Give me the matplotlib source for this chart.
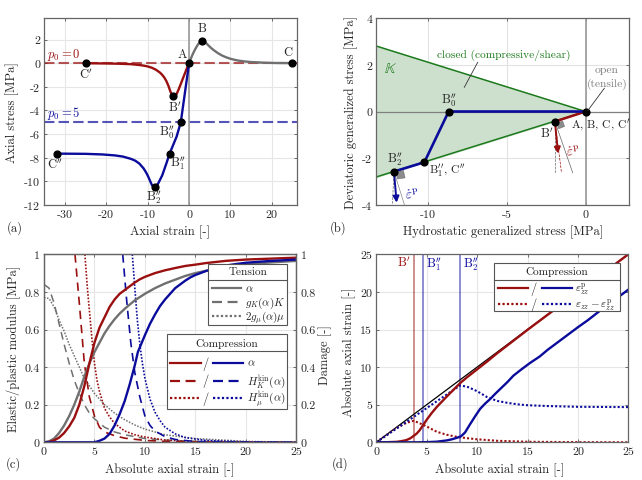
import matplotlib
matplotlib.use("Agg")
import matplotlib.pyplot as plt
from matplotlib.patches import Rectangle
from matplotlib.lines import Line2D
from matplotlib.transforms import Affine2D

plt.rcParams["font.family"] = ["cmr10", "DejaVu Sans"]
plt.rcParams["mathtext.fontset"] = "cm"
plt.rcParams["axes.unicode_minus"] = False
plt.rcParams["axes.formatter.use_mathtext"] = True

RED = "#9a0f0f"
BLUE = "#0b0b9c"
GRAY = "#707070"
GREEN = "#1c7a1c"
TXT = "#262626"
FS = 8.6

# panel a
tension_x = [0, 0.5, 1, 1.5, 2, 2.5, 2.9, 3.2, 3.5, 4, 4.5, 5, 5.5, 6, 7, 8, 9, 10, 11, 12, 13.5, 15, 18, 21, 25]
tension_y = [0, 0.45, 0.85, 1.2, 1.5, 1.75, 1.86, 1.9, 1.86, 1.75, 1.57, 1.4, 1.24, 1.1, 0.85, 0.65, 0.5, 0.38, 0.29, 0.22, 0.15, 0.1, 0.05, 0.02, 0.01]
red_x = [0, -0.5, -1, -1.5, -2, -2.5, -3, -3.4, -3.8, -4.2, -4.5, -5, -5.5, -6, -6.5, -7, -8, -9, -10, -11, -12, -14, -17, -20, -25]
red_y = [0, -0.4, -0.85, -1.3, -1.75, -2.2, -2.6, -2.75, -2.8, -2.65, -2.4, -1.9, -1.5, -1.2, -0.98, -0.8, -0.55, -0.38, -0.27, -0.2, -0.15, -0.08, -0.04, -0.02, 0]
blue_x = [0, -2, -3, -4.7, -5.5, -6.5, -7.5, -8, -8.3, -8.7, -9, -9.5, -10, -10.5, -11, -12, -13, -14, -16, -18, -21, -25, -32]
blue_y = [0, -5, -6.2, -7.65, -8.5, -9.5, -10.2, -10.42, -10.5, -10.42, -10.3, -9.9, -9.5, -9.18, -8.9, -8.5, -8.25, -8.1, -7.9, -7.8, -7.72, -7.67, -7.65]
points_a_x = [0, 3.2, 25, -25, -3.8, -2, -4.7, -8.3, -32]
points_a_y = [0, 1.9, 0.02, 0, -2.8, -5, -7.65, -10.5, -7.65]

# panel b
cone_x = [0, -13.28]
cone_up = [0, 2.8]
cone_low = [0, -2.8]
path_blue_x = [0, -8.69, -10.23, -12.16]
path_blue_y = [0, 0, -2.17, -2.57]
path_red_x = [0, -1.95]
path_red_y = [0, -0.43]
square_red = [(-1.84, -0.5), (-1.46, -0.4), (-1.33, -0.64), (-1.71, -0.74)]
square_blue = [(-12.03, -2.6), (-11.56, -2.51), (-11.45, -2.84), (-11.94, -2.89)]

# panel c
alpha_t_x = [0, 0.5, 1, 1.5, 2, 2.5, 3, 3.5, 4, 4.5, 5, 5.5, 6, 6.5, 7, 7.5, 8, 8.5, 9, 10, 11, 12, 13, 14, 15, 16, 18, 20, 22, 25]
alpha_t_y = [0, 0.005, 0.02, 0.05, 0.09, 0.14, 0.2, 0.27, 0.35, 0.42, 0.48, 0.53, 0.58, 0.62, 0.655, 0.685, 0.71, 0.733, 0.755, 0.79, 0.82, 0.845, 0.865, 0.885, 0.9, 0.912, 0.93, 0.945, 0.955, 0.965]
alpha_r_x = [0, 0.5, 1, 1.5, 2, 2.5, 3, 3.5, 4, 4.5, 5, 5.5, 6, 6.5, 7, 7.5, 8, 8.5, 9, 9.5, 10, 11, 12, 13, 14, 15, 16, 18, 20, 25]
alpha_r_y = [0, 0.002, 0.01, 0.025, 0.05, 0.085, 0.13, 0.2, 0.3, 0.42, 0.53, 0.61, 0.665, 0.72, 0.76, 0.79, 0.81, 0.83, 0.85, 0.867, 0.88, 0.9, 0.915, 0.927, 0.938, 0.945, 0.953, 0.965, 0.972, 0.982]
alpha_b_x = [0, 5, 5.5, 6, 6.5, 7, 7.5, 8, 8.5, 9, 9.3, 10, 10.5, 11, 11.5, 12, 12.5, 13, 13.5, 14, 14.5, 15, 16, 17, 18, 19, 20, 22, 25]
alpha_b_y = [0, 0, 0.008, 0.02, 0.045, 0.09, 0.15, 0.22, 0.31, 0.41, 0.48, 0.57, 0.63, 0.68, 0.725, 0.76, 0.79, 0.82, 0.84, 0.86, 0.877, 0.89, 0.91, 0.927, 0.94, 0.948, 0.955, 0.963, 0.972]
gk_x = [0, 0.5, 1, 1.5, 2, 2.5, 3, 3.5, 4, 4.5, 5, 6, 7, 8, 10, 12, 15, 25]
gk_y = [0.84, 0.82, 0.74, 0.63, 0.52, 0.42, 0.33, 0.26, 0.2, 0.155, 0.125, 0.08, 0.055, 0.04, 0.02, 0.012, 0.005, 0]
gmu_x = [0, 0.5, 1, 1.5, 2, 2.5, 3, 3.5, 4, 4.5, 5, 5.5, 6, 7, 8, 9, 10, 12, 15, 20, 25]
gmu_y = [0.77, 0.765, 0.72, 0.65, 0.59, 0.52, 0.46, 0.4, 0.34, 0.3, 0.26, 0.23, 0.2, 0.155, 0.12, 0.092, 0.07, 0.04, 0.02, 0.005, 0]
hk_r_x = [3.07, 3.5, 4, 4.5, 5, 5.5, 6, 7, 8, 10, 12, 15, 25]
hk_r_y = [1, 0.74, 0.42, 0.24, 0.14, 0.08, 0.055, 0.035, 0.022, 0.01, 0.005, 0.001, 0]
hmu_r_x = [4.05, 4.3, 4.5, 4.75, 5, 5.25, 5.5, 6, 6.5, 7, 8, 9, 10, 12, 15, 25]
hmu_r_y = [1, 0.82, 0.7, 0.55, 0.42, 0.33, 0.27, 0.18, 0.135, 0.1, 0.06, 0.04, 0.028, 0.012, 0.003, 0]
hk_b_x = [7.8, 8.2, 8.6, 9, 9.5, 10, 10.5, 11, 12, 13, 15, 25]
hk_b_y = [1, 0.75, 0.53, 0.37, 0.24, 0.14, 0.09, 0.06, 0.03, 0.015, 0.004, 0]
hmu_b_x = [8.75, 9, 9.25, 9.5, 9.75, 10, 10.5, 11, 11.5, 12, 13, 14, 16, 20, 25]
hmu_b_y = [1, 0.82, 0.65, 0.52, 0.42, 0.34, 0.23, 0.16, 0.115, 0.08, 0.045, 0.025, 0.01, 0.002, 0]

# panel d
total_x = [0, 25]
total_y = [0, 25]
ep_r_x = [0, 1, 2, 2.5, 3, 3.4, 3.7, 4, 4.3, 4.7, 5, 5.5, 6, 6.5, 7, 8, 8.4, 9, 10, 11, 12, 15, 20, 25]
ep_r_y = [0, 0.01, 0.06, 0.15, 0.3, 0.55, 0.85, 1.15, 1.6, 2.4, 3.0, 3.9, 4.7, 5.4, 6.1, 7.45, 7.97, 8.65, 9.7, 10.75, 11.85, 14.95, 19.97, 25]
ee_r_x = [0, 1, 2, 3, 3.7, 4.2, 5, 6, 7, 8, 9, 10, 12, 15, 20, 25]
ee_r_y = [0, 0.95, 1.9, 2.6, 2.85, 2.6, 2.1, 1.4, 1.0, 0.72, 0.55, 0.4, 0.2, 0.07, 0.02, 0]
ep_b_x = [0, 4, 5, 6, 7, 7.5, 8, 8.4, 8.8, 9.3, 9.8, 10.3, 10.8, 11.3, 11.8, 12.3, 13, 13.6, 14.4, 15.25, 16.2, 17, 18, 19, 20, 21, 22, 23, 24, 25]
ep_b_y = [0, 0, 0.02, 0.08, 0.25, 0.4, 0.6, 0.8, 1.3, 2.4, 3.45, 4.45, 5.15, 5.76, 6.45, 7.1, 8, 8.86, 9.7, 10.55, 11.4, 12.3, 13.3, 14.3, 15.3, 16.25, 17.3, 18.3, 19.3, 20.3]
ee_b_x = [0, 8.3, 9, 9.5, 10, 10.5, 11, 11.5, 12, 13, 14, 15, 17, 20, 25]
ee_b_y = [0, 7.55, 7.4, 7.1, 6.8, 6.4, 6.0, 5.75, 5.5, 5.25, 5.05, 4.93, 4.82, 4.72, 4.68]
mark_lines = [3.7, 4.65, 8.35]
mark_colors = [RED, BLUE, BLUE]

fig = plt.figure(figsize=(6.42, 4.81), dpi=100)
PX = Affine2D().scale(1 / 642, -1 / 481).translate(0, 1) + fig.transFigure


def make_axes(x0, y0, x1, y1, xlim, ylim, xticks, yticks):
    ax = fig.add_axes([x0 / 642, 1 - y1 / 481, (x1 - x0) / 642, (y1 - y0) / 481])
    ax.set_xlim(xlim)
    ax.set_ylim(ylim)
    ax.set_xticks(xticks)
    ax.set_xticklabels([str(t) for t in xticks])
    ax.set_yticks(yticks)
    ax.set_yticklabels([str(t) for t in yticks])
    ax.grid(True, color="#e6e6e6", lw=0.8)
    ax.set_axisbelow(True)
    ax.tick_params(direction="in", length=2.5, width=0.6, color="#555555", labelsize=FS,
                   labelcolor=TXT, top=True, right=True, pad=3)
    for s in ax.spines.values():
        s.set_color("#666666")
        s.set_linewidth(0.9)
    return ax


def label(x, y, s, color=TXT, size=FS + 0.4, rot=0, **kw):
    fig.text(x, y, s, transform=PX, color=color, fontsize=size, rotation=rot,
             ha="center", va="center", **kw)


def legend_box(x0, x1, y0, y1, ysep, title, ytitle):
    fig.add_artist(Rectangle((x0, y0), x1 - x0, y1 - y0, transform=PX, fc="white", ec="#555555", lw=0.8))
    fig.add_artist(Line2D([x0, x1], [ysep, ysep], transform=PX, color="#555555", lw=0.8))
    label((x0 + x1) / 2, ytitle, title, size=8.1)


def legend_line(x0, x1, y, color, ls):
    fig.add_artist(Line2D([x0, x1], [y, y], transform=PX, color=color, ls=ls, lw=1.6))


def legend_text(x, y, s):
    fig.text(x, y, s, transform=PX, color=TXT, fontsize=8.0, ha="left", va="center")


# (a)
ax = make_axes(44.3, 19, 297, 206, (-35, 26.1), (-12, 3.83), [-30, -20, -10, 0, 10, 20], [-12, -10, -8, -6, -4, -2, 0, 2])
ax.axvline(0, color="#9a9a9a", lw=1.2)
ax.axhline(0, color=RED, ls=(0, (5, 2)), lw=1.5, alpha=0.7)
ax.axhline(-5, color=BLUE, ls=(0, (5, 2)), lw=1.5, alpha=0.7)
ax.plot(tension_x, tension_y, color=GRAY, lw=1.7)
ax.plot(red_x, red_y, color=RED, lw=1.7)
ax.plot(blue_x, blue_y, color=BLUE, lw=1.7)
ax.plot(points_a_x, points_a_y, "o", color="black", ms=4.9, zorder=5)
label(64, 55, r"$p_0 = 0$", RED)
label(64, 113.7, r"$p_0 = 5$", BLUE)
label(202.3, 29, "B")
label(182, 54.7, "A")
label(288, 52.7, "C")
label(86, 75, r"C$'$")
label(175, 107.7, r"B$'$")
label(166.7, 132.3, r"B$_0''$")
label(178.3, 163.3, r"B$_1''$")
label(55, 165.3, r"C$''$")
label(154.3, 197.7, r"B$_2''$")
label(14.3, 228.3, "(a)")
label(170, 232.3, "Axial strain [-]")
label(12.7, 112.7, "Axial stress [MPa]", rot=90)

# (b)
ax = make_axes(376.3, 19, 629.3, 206, (-13.28, 2.77), (-4, 4), [-10, -5, 0], [-4, -2, 0, 2, 4])
ax.fill_between(cone_x, cone_low, cone_up, color="#cde0cd", zorder=1)
ax.grid(True, color="#e2e2e2", lw=0.8)
ax.axvline(0, color="#9a9a9a", lw=1.2, zorder=2)
ax.axhline(0, color="#808080", lw=0.9, zorder=2)
ax.plot(cone_x, cone_up, color=GREEN, lw=1.1)
ax.plot(cone_x, cone_low, color=GREEN, lw=1.1)
ax.fill(*zip(*square_red), color="#8c8c8c", ec="#666666", lw=0.3, zorder=3)
ax.fill(*zip(*square_blue), color="#8c8c8c", ec="#666666", lw=0.3, zorder=3)
ax.plot([-1.95, -1.95], [-0.43, -2.62], color="#666666", ls="--", lw=0.5)
ax.plot([-1.95, -1.53], [-0.43, -2.62], color=RED, ls="--", lw=0.5)
ax.plot([-1.95, -0.82], [-0.43, -2.62], color="#666666", lw=0.5)
ax.plot([-12.16, -12.26], [-2.57, -3.98], color="#666666", ls="--", lw=0.5)
ax.plot([-12.16, -11.5], [-2.57, -3.98], color="#888888", lw=0.5)
ax.annotate("", xy=(-1.75, -1.8), xytext=(-1.95, -0.43),
            arrowprops=dict(arrowstyle="-|>", color=RED, lw=1.4, mutation_scale=9, shrinkA=0, shrinkB=0))
ax.annotate("", xy=(-11.99, -3.9), xytext=(-12.16, -2.57),
            arrowprops=dict(arrowstyle="-|>", color=BLUE, lw=1.4, mutation_scale=9, shrinkA=0, shrinkB=0))
ax.plot(path_red_x, path_red_y, color=RED, lw=1.8)
ax.plot(path_blue_x, path_blue_y, color=BLUE, lw=1.9)
ax.plot(path_blue_x + path_red_x[1:], path_blue_y + path_red_y[1:], "o", color="black", ms=4.9, ls="none", zorder=5)
fig.add_artist(Line2D([477.7, 464.3], [63.3, 88.3], transform=PX, color="#333333", lw=0.6))
fig.add_artist(Line2D([604.3, 587.7], [89.3, 111.7], transform=PX, color="#333333", lw=0.6))
label(503.7, 55.3, "closed (compressive/shear)", GREEN, size=8.2)
fig.text(390.7, 69.3, r"$\mathbb{K}$", transform=PX, color=GREEN, fontsize=FS + 2, ha="center", va="center", math_fontfamily="stix")
label(607, 70, "open", "#808080", size=8.3)
label(607, 84, "(tensile)", "#808080", size=8.3)
label(449, 100.7, r"B$_0''$")
label(600.3, 124.3, r"A, B, C, C$'$", size=8.3)
label(547, 134, r"B$'$")
label(447, 170.7, r"B$_1''$, C$''$", size=8.4)
label(395, 159.3, r"B$_2''$")
label(573.3, 152.3, r"$\dot{\varepsilon}^{\mathrm{p}}$", RED, size=10, rot=10)
label(412, 195, r"$\dot{\varepsilon}^{\mathrm{p}}$", BLUE, size=10, rot=10)
label(337.7, 228.3, "(b)")
label(502.7, 232.3, "Hydrostatic generalized stress [MPa]")
label(351, 112.7, "Deviatoric generalized stress [MPa]", rot=90)

# (c)
tk = [0, 0.2, 0.4, 0.6, 0.8, 1]
ax = make_axes(44, 255.3, 296.3, 443.3, (0, 25), (0, 1), [0, 5, 10, 15, 20, 25], tk)
ax.plot(gk_x, gk_y, color=GRAY, ls=(0, (5, 3.5)), lw=1.1)
ax.plot(gmu_x, gmu_y, color=GRAY, ls=(0, (1, 1)), lw=1.1)
ax.plot(hk_r_x, hk_r_y, color=RED, ls=(0, (5, 3.5)), lw=1.2)
ax.plot(hmu_r_x, hmu_r_y, color=RED, ls=(0, (1, 1)), lw=1.2)
ax.plot(hk_b_x, hk_b_y, color=BLUE, ls=(0, (5, 3.5)), lw=1.2)
ax.plot(hmu_b_x, hmu_b_y, color=BLUE, ls=(0, (1, 1)), lw=1.2)
ax.plot(alpha_t_x, alpha_t_y, color=GRAY, lw=1.7)
ax.plot(alpha_r_x, alpha_r_y, color=RED, lw=1.7)
ax.plot(alpha_b_x, alpha_b_y, color=BLUE, lw=1.7)
ax2 = ax.twinx()
ax2.set_ylim(0, 1)
ax2.set_yticks(tk)
ax2.set_yticklabels([str(t) for t in tk])
ax2.tick_params(direction="in", length=2.5, width=0.6, color="#555555", labelsize=FS, labelcolor=TXT, pad=3)
for s in ax2.spines.values():
    s.set_color("#666666")
    s.set_linewidth(0.9)
label(13.7, 464, "(c)")
label(170, 470, "Absolute axial strain [-]")
label(14, 349, "Elastic/plastic modulus [MPa]", rot=90)
label(325, 355, "Damage [-]", rot=90)

legend_box(208.3, 287.3, 265, 326, 281.3, "Tension", 272.3)
legend_line(211.7, 240.7, 289.3, GRAY, "-")
legend_line(211.7, 240.7, 303.3, GRAY, (0, (4.5, 2.5)))
legend_line(211.7, 240.7, 317.3, GRAY, (0, (1, 1)))
legend_text(245, 289.3, r"$\alpha$")
legend_text(245, 303.3, r"$g_K(\alpha)K$")
legend_text(245, 317.3, r"$2g_\mu(\alpha)\mu$")

legend_box(166.7, 287.3, 335, 410, 351.7, "Compression", 344)
for y, ls in zip([364, 381.7, 399.3], ["-", (0, (4.5, 2.5)), (0, (1, 1))]):
    legend_line(170, 201, y, RED, ls)
    legend_line(213.3, 243.3, y, BLUE, ls)
    label(205.7, y, "/")
legend_text(246.7, 364, r"$\alpha$")
legend_text(246.7, 381.7, r"$H_K^{\mathrm{kin}}(\alpha)$")
legend_text(246.7, 399.3, r"$H_\mu^{\mathrm{kin}}(\alpha)$")

# (d)
ax = make_axes(376.3, 255.3, 628.3, 443.3, (0, 25), (0, 25), [0, 5, 10, 15, 20, 25], [0, 5, 10, 15, 20, 25])
for xv, col in zip(mark_lines, mark_colors):
    ax.axvline(xv, color=col, lw=1.2, alpha=0.55)
ax.plot(total_x, total_y, color="black", lw=0.9)
ax.plot(ee_r_x, ee_r_y, color=RED, ls=(0, (1, 1)), lw=1.5)
ax.plot(ee_b_x, ee_b_y, color=BLUE, ls=(0, (1, 1)), lw=1.5)
ax.plot(ep_r_x, ep_r_y, color=RED, lw=1.7)
ax.plot(ep_b_x, ep_b_y, color=BLUE, lw=1.7)
label(403.7, 263.3, r"B$'$", RED)
label(433.7, 264, r"B$_1''$", BLUE)
label(471.3, 264, r"B$_2''$", BLUE)
label(339.7, 464, "(d)")
label(499.3, 470, "Absolute axial strain [-]")
label(349.3, 352.7, "Absolute axial strain [-]", rot=90)

legend_box(494.3, 620, 264.3, 312, 280.7, "Compression", 272)
for y, ls in zip([289.3, 305], ["-", (0, (1, 1))]):
    legend_line(497.7, 528.3, y, RED, ls)
    legend_line(541.7, 571.7, y, BLUE, ls)
    label(533.3, y, "/")
legend_text(575, 289.3, r"$\varepsilon_{zz}^{\mathrm{p}}$")
legend_text(575, 305, r"$\varepsilon_{zz} - \varepsilon_{zz}^{\mathrm{p}}$")

fig.savefig("out.png", dpi=100)
